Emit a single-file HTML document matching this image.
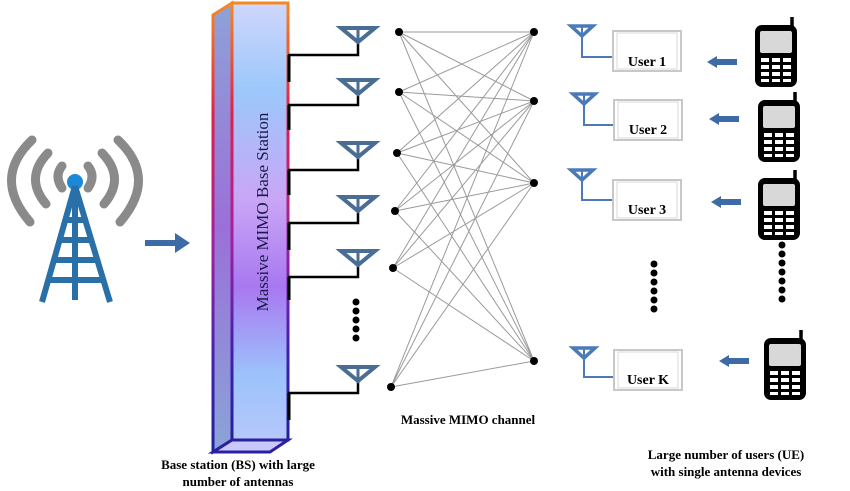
<!DOCTYPE html>
<html><head><meta charset="utf-8"><style>
html,body{margin:0;padding:0;background:#fff;}
svg{display:block;font-family:"Liberation Serif",serif;}
</style></head><body>
<svg width="850" height="491" viewBox="0 0 850 491" xmlns="http://www.w3.org/2000/svg">
<defs>
<linearGradient id="fill" x1="0" y1="0" x2="0" y2="1">
<stop offset="0" stop-color="#cfd6fb"/><stop offset="0.2" stop-color="#9cc8fb"/><stop offset="0.45" stop-color="#c9a6f6"/><stop offset="0.65" stop-color="#a878f0"/><stop offset="0.85" stop-color="#9cc2fb"/><stop offset="1" stop-color="#b6c8fb"/>
</linearGradient>
<linearGradient id="side" x1="0" y1="0" x2="0" y2="1">
<stop offset="0" stop-color="#8ea2d8"/><stop offset="0.5" stop-color="#9a70d8"/><stop offset="1" stop-color="#8aa4d8"/>
</linearGradient>
<linearGradient id="brd" x1="0" y1="0" x2="0" y2="1">
<stop offset="0" stop-color="#f58a20"/><stop offset="0.25" stop-color="#e0204a"/><stop offset="0.55" stop-color="#a020a0"/><stop offset="0.8" stop-color="#4020b0"/><stop offset="1" stop-color="#2020a0"/>
</linearGradient>
<g id="ant"><path d="M-17,0 L17,0 L0,14 Z" fill="none" stroke="#4a6d96" stroke-width="4"/><line x1="0" y1="0" x2="0" y2="14" stroke="#4a6d96" stroke-width="3"/></g>
<g id="uant"><path d="M-11,0 L11,0 L0,10 Z" fill="none" stroke="#4a7ab8" stroke-width="3.5"/><line x1="0" y1="0" x2="0" y2="30" stroke="#4a7ab8" stroke-width="2"/></g>
<g id="phone">
<line x1="37" y1="-8" x2="37" y2="4" stroke="#000" stroke-width="3.5"/>
<rect x="0" y="0" width="42" height="62" rx="7" fill="#000"/>
<rect x="5" y="6" width="32" height="22" rx="2" fill="#d8d8d8"/>
<g fill="#fff">
<rect x="6" y="33" width="8" height="4"/><rect x="17" y="33" width="8" height="4"/><rect x="28" y="33" width="8" height="4"/>
<rect x="6" y="40" width="8" height="4"/><rect x="17" y="40" width="8" height="4"/><rect x="28" y="40" width="8" height="4"/>
<rect x="6" y="47" width="8" height="4"/><rect x="17" y="47" width="8" height="4"/><rect x="28" y="47" width="8" height="4"/>
<rect x="6" y="54" width="8" height="3"/><rect x="17" y="54" width="8" height="3"/><rect x="28" y="54" width="8" height="3"/>
</g></g>
<g id="larr"><path d="M0,0 L10,-6 L10,-3 L30,-3 L30,3 L10,3 L10,6 Z" fill="#3e6aa6"/></g>
<g id="ubox"><rect x="0" y="0" width="68" height="40" fill="#fff" stroke="#c8c8c8" stroke-width="2"/><rect x="4" y="2" width="60" height="36" fill="none" stroke="#d8d8d8" stroke-width="1"/></g>
</defs>

<!-- tower -->
<g fill="none" stroke="#8a8a8a" stroke-width="9" stroke-linecap="round">
<path d="M32,140 Q-8,178 30,222"/><path d="M118,140 Q158,178 120,222"/>
<path d="M48,153 Q24,178 46,204"/><path d="M102,153 Q126,178 104,204"/>
<path d="M62,166 Q54,176 62,188"/><path d="M88,166 Q96,176 88,188"/>
</g>
<circle cx="75" cy="182" r="8" fill="#1a8ad8"/>
<g stroke="#2a70a8" stroke-width="6" fill="none">
<path d="M75,186 L42,302 M75,186 L110,302 M75,186 L75,300"/>
<path d="M64,220 L86,220 M58,240 L92,240 M53,260 L97,260 M47,280 L103,280"/>
</g>
<path d="M145,240 L175,240 L175,233 L190,243 L175,253 L175,246 L145,246 Z" fill="#3e6aa6"/>

<!-- base station bar -->
<path d="M213,15 L232,3 L232,440 L213,452 Z" fill="url(#side)" stroke="url(#brd)" stroke-width="3"/>
<rect x="232" y="3" width="56" height="437" fill="url(#fill)" stroke="url(#brd)" stroke-width="3"/>
<path d="M213,452 L232,440 L288,440 L270,452 Z" fill="#c8c8fa" stroke="#2a20a0" stroke-width="3"/>
<text transform="translate(268,212) rotate(-90)" text-anchor="middle" font-size="17" fill="#1a1a4a">Massive MIMO Base Station</text>

<!-- wires to antennas -->
<g stroke="#000" stroke-width="2.5" fill="none">
<path d="M288,55 H358 V38"/><path d="M288,105 H358 V90"/><path d="M288,170 H358 V153"/>
<path d="M288,223 H358 V207"/><path d="M288,277 H358 V261"/><path d="M288,393 H358 V377"/>
<path d="M289,55 V82 M289,105 V130 M289,170 V195 M289,223 V250 M289,277 V300 M289,393 V420" stroke-width="3"/>
</g>
<use href="#ant" x="358" y="28"/><use href="#ant" x="358" y="80"/><use href="#ant" x="358" y="143"/>
<use href="#ant" x="358" y="197"/><use href="#ant" x="358" y="251"/><use href="#ant" x="358" y="367"/>
<g fill="#000"><circle cx="356" cy="302" r="3.5"/><circle cx="356" cy="311" r="3.5"/><circle cx="356" cy="320" r="3.5"/><circle cx="356" cy="329" r="3.5"/><circle cx="356" cy="338" r="3.5"/></g>

<!-- channel lines -->
<g stroke="#9a9a9a" stroke-width="1">
<path d="M399,32 L534,32 M399,32 L534,101 M399,32 L534,183 M399,32 L534,361
M399,92 L534,32 M399,92 L534,101 M399,92 L534,183 M399,92 L534,361
M397,153 L534,32 M397,153 L534,101 M397,153 L534,183 M397,153 L534,361
M395,211 L534,32 M395,211 L534,101 M395,211 L534,183 M395,211 L534,361
M393,268 L534,32 M393,268 L534,101 M393,268 L534,183 M393,268 L534,361
M391,387 L534,32 M391,387 L534,101 M391,387 L534,183 M391,387 L534,361"/>
</g>
<g fill="#000">
<circle cx="399" cy="32" r="4"/><circle cx="399" cy="92" r="4"/><circle cx="397" cy="153" r="4"/><circle cx="395" cy="211" r="4"/><circle cx="393" cy="268" r="4"/><circle cx="391" cy="387" r="4"/>
<circle cx="534" cy="32" r="4"/><circle cx="534" cy="101" r="4"/><circle cx="534" cy="183" r="4"/><circle cx="534" cy="361" r="4"/>
</g>
<text x="468" y="424" text-anchor="middle" font-size="13" font-weight="bold">Massive MIMO channel</text>

<!-- users -->
<g stroke="#4a7ab8" stroke-width="2" fill="none">
<path d="M582,28 V57 H613"/><path d="M584,96 V125 H613"/><path d="M582,172 V200 H613"/><path d="M584,350 V377 H613"/>
</g>
<use href="#uant" x="582" y="26"/><use href="#uant" x="584" y="94"/><use href="#uant" x="582" y="170"/><use href="#uant" x="584" y="348"/>
<use href="#ubox" x="613" y="31"/><use href="#ubox" x="614" y="100"/><use href="#ubox" x="613" y="180"/><use href="#ubox" x="614" y="350"/>
<g font-size="14" font-weight="bold" text-anchor="middle">
<text x="647" y="66">User 1</text><text x="648" y="134">User 2</text><text x="647" y="214">User 3</text><text x="648" y="384">User K</text>
</g>
<use href="#larr" x="707" y="62"/><use href="#larr" x="709" y="119"/><use href="#larr" x="711" y="202"/><use href="#larr" x="719" y="361"/>
<use href="#phone" x="755" y="25"/><use href="#phone" x="758" y="100"/><use href="#phone" x="758" y="178"/><use href="#phone" x="764" y="338"/>
<g fill="#000">
<circle cx="654" cy="264" r="3.5"/><circle cx="654" cy="273" r="3.5"/><circle cx="654" cy="282" r="3.5"/><circle cx="654" cy="291" r="3.5"/><circle cx="654" cy="300" r="3.5"/><circle cx="654" cy="309" r="3.5"/>
<circle cx="782" cy="245" r="3.5"/><circle cx="782" cy="254" r="3.5"/><circle cx="782" cy="263" r="3.5"/><circle cx="782" cy="272" r="3.5"/><circle cx="782" cy="281" r="3.5"/><circle cx="782" cy="290" r="3.5"/><circle cx="782" cy="299" r="3.5"/>
</g>

<!-- captions -->
<g font-size="13" font-weight="bold" text-anchor="middle">
<text x="238" y="469">Base station (BS) with large</text>
<text x="238" y="486">number of antennas</text>
<text x="726" y="459">Large number of users (UE)</text>
<text x="726" y="476">with single antenna devices</text>
</g>
</svg>
</body></html>
